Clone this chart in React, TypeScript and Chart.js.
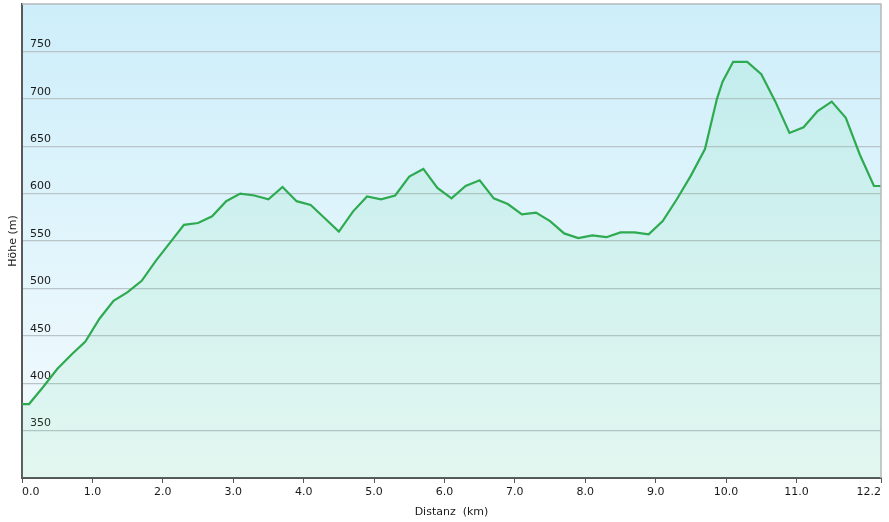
import React, { useEffect, useRef } from "react";
import { Chart, registerables } from "chart.js";

Chart.register(...registerables);

const DIST = [
  0, 0.1, 0.3, 0.5, 0.7, 0.9, 1.1, 1.3, 1.5, 1.7, 1.9, 2.1, 2.3, 2.5, 2.7, 2.9,
  3.1, 3.3, 3.5, 3.7, 3.9, 4.1, 4.3, 4.5, 4.7, 4.9, 5.1, 5.3, 5.5, 5.7, 5.9,
  6.1, 6.3, 6.5, 6.7, 6.9, 7.1, 7.3, 7.5, 7.7, 7.9, 8.1, 8.3, 8.5, 8.7, 8.9,
  9.1, 9.3, 9.5, 9.7, 9.87, 9.95, 10.1, 10.3, 10.5, 10.7, 10.9, 11.1, 11.3,
  11.5, 11.7, 11.9, 12.1, 12.2,
];
const ELEV = [
  378, 378, 396, 415, 430, 444, 468, 487, 496, 508, 529, 548, 567, 569, 576,
  592, 600, 598, 594, 607, 592, 588, 574, 560, 581, 597, 594, 598, 618, 626,
  606, 595, 608, 614, 595, 589, 578, 580, 571, 558, 553, 556, 554, 559, 559,
  557, 571, 594, 619, 647, 700, 718, 739, 739, 726, 697, 664, 670, 687, 697,
  680, 641, 608, 608,
];
const X_TICKS = [0, 1, 2, 3, 4, 5, 6, 7, 8, 9, 10, 11, 12.2];
const Y_MIN = 300;
const Y_MAX = 800;
const Y_STEP = 50;
const X_TITLE = "Distanz  (km)";
const Y_TITLE = "Höhe (m)";

const FONT = "'DejaVu Sans', Verdana, sans-serif";

const bgPlugin = {
  id: "bgPlugin",
  beforeDraw(chart: any) {
    const { ctx, chartArea } = chart;
    const { left, top, right, bottom } = chartArea;
    ctx.save();
    ctx.fillStyle = "#ffffff";
    ctx.fillRect(0, 0, chart.width, chart.height);
    const g = ctx.createLinearGradient(0, top, 0, bottom);
    g.addColorStop(0, "#cdeefa");
    g.addColorStop(1, "#f5fbfd");
    ctx.fillStyle = g;
    ctx.fillRect(left, top, right - left, bottom - top);
    ctx.restore();
  },
  afterDraw(chart: any) {
    const { ctx, chartArea } = chart;
    const { left, top, right, bottom } = chartArea;
    ctx.save();
    ctx.strokeStyle = "#b4b9bd";
    ctx.lineWidth = 1.5;
    ctx.beginPath();
    ctx.moveTo(left, top);
    ctx.lineTo(right, top);
    ctx.lineTo(right, bottom);
    ctx.stroke();
    ctx.restore();
  },
};

export default function App() {
  const ref = useRef<HTMLCanvasElement | null>(null);

  useEffect(() => {
    if (!ref.current) return;
    const data = DIST.map((d, i) => ({ x: d, y: ELEV[i] }));
    const chart = new Chart(ref.current, {
      type: "line",
      data: {
        datasets: [
          {
            data,
            borderColor: "#2eaa50",
            borderWidth: 2.2,
            backgroundColor: "rgba(80, 220, 140, 0.11)",
            fill: "start",
            pointRadius: 0,
            tension: 0,
          },
        ],
      },
      options: {
        responsive: false,
        animation: false,
        layout: { padding: { top: 4, right: 8, left: 0, bottom: 0 } },
        plugins: {
          legend: { display: false },
          tooltip: { enabled: false },
        },
        scales: {
          x: {
            type: "linear",
            min: 0,
            max: 12.2,
            afterBuildTicks: (scale: any) => {
              scale.ticks = X_TICKS.map((v) => ({ value: v }));
            },
            afterFit: (scale: any) => {
              scale.height = 44;
              scale.paddingLeft = 0;
              scale.paddingRight = 0;
            },
            ticks: {
              autoSkip: false,
              maxRotation: 0,
              align: "inner",
              padding: 3,
              color: "#1a1a1a",
              font: { family: FONT, size: 11 },
              callback: (v: any) => Number(v).toFixed(1),
            },
            grid: {
              drawOnChartArea: false,
              drawTicks: true,
              tickLength: 5,
              color: "#555",
            },
            border: { color: "#555", width: 2 },
            title: {
              display: true,
              text: X_TITLE,
              color: "#1a1a1a",
              font: { family: FONT, size: 11 },
              padding: { top: 4, bottom: 3 },
            },
          },
          y: {
            type: "linear",
            min: Y_MIN,
            max: Y_MAX,
            afterFit: (scale: any) => {
              scale.width = 22;
              scale.paddingTop = 0;
              scale.paddingBottom = 0;
            },
            ticks: {
              stepSize: Y_STEP,
              mirror: true,
              padding: 8,
              labelOffset: -7,
              color: "#1a1a1a",
              font: { family: FONT, size: 11 },
              callback: (v: any) =>
                v === Y_MIN || v === Y_MAX ? null : String(v),
            },
            grid: {
              drawTicks: false,
              color: "#b8c4c8",
              lineWidth: 1.2,
            },
            border: { color: "#5a5a5a", width: 2 },
            title: {
              display: true,
              text: Y_TITLE,
              color: "#1a1a1a",
              font: { family: FONT, size: 11 },
              padding: { top: 7, bottom: 0 },
            },
          },
        },
      },
      plugins: [bgPlugin],
    } as any);
    return () => chart.destroy();
  }, []);

  return (
    <div style={{ position: "fixed", left: 0, top: 0, width: 889, height: 522 }}>
      <canvas ref={ref} width={889} height={522} />
    </div>
  );
}
